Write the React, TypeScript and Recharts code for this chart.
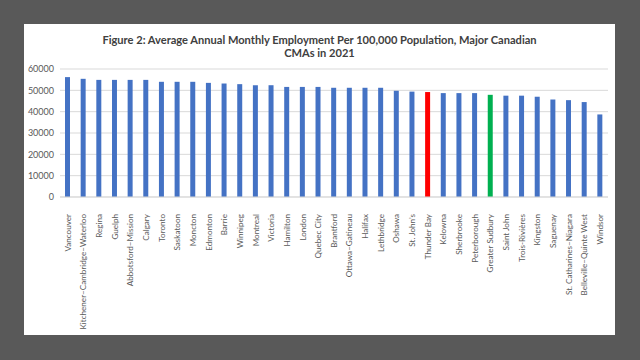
import React from "react";
import { BarChart, Bar, XAxis, YAxis, CartesianGrid, Cell } from "recharts";

const categories = [
  "Vancouver",
  "Kitchener–Cambridge–Waterloo",
  "Regina",
  "Guelph",
  "Abbotsford–Mission",
  "Calgary",
  "Toronto",
  "Saskatoon",
  "Moncton",
  "Edmonton",
  "Barrie",
  "Winnipeg",
  "Montreal",
  "Victoria",
  "Hamilton",
  "London",
  "Quebec City",
  "Brantford",
  "Ottawa–Gatineau",
  "Halifax",
  "Lethbridge",
  "Oshawa",
  "St. John’s",
  "Thunder Bay",
  "Kelowna",
  "Sherbrooke",
  "Peterborough",
  "Greater Sudbury",
  "Saint John",
  "Trois-Rivières",
  "Kingston",
  "Saguenay",
  "St. Catharines–Niagara",
  "Belleville–Quinte West",
  "Windsor",
];

const employment = [
  56200, 55400, 54900, 54900, 54900, 54900, 54000, 54000, 54000, 53500, 53200,
  52900, 52400, 52400, 51600, 51600, 51600, 51200, 51200, 51200, 51200, 49800,
  49400, 49200, 48700, 48700, 48700, 47900, 47500, 47500, 47000, 45700, 45400,
  44500, 38700,
];

const yTicks = [0, 10000, 20000, 30000, 40000, 50000, 60000];

const titleLines = [
  "Figure 2: Average Annual Monthly Employment Per 100,000 Population, Major Canadian",
  "CMAs in 2021",
];

const BASE_COLOR = "#4472C4";
const highlightColors: Record<string, string> = {
  "Thunder Bay": "#FF0000",
  "Greater Sudbury": "#00B050",
};

const data = categories.map((name, i) => ({ name, value: employment[i] }));

const FONT = "Lato, 'Liberation Sans', sans-serif";

const RotatedTick = (props: any) => {
  const { x, y, payload } = props;
  return (
    <text
      x={x}
      y={y + 9}
      transform={`rotate(-90, ${x}, ${y + 9})`}
      textAnchor="end"
      dy="0.35em"
      fill="#595959"
      fontSize={8.1}
      fontFamily={FONT}
    >
      {payload.value}
    </text>
  );
};

export default function App() {
  return (
    <div
      style={{
        position: "absolute",
        left: 0,
        top: 0,
        width: 640,
        height: 360,
        background: "#595959",
        overflow: "hidden",
      }}
    >
      <div
        style={{
          position: "absolute",
          left: 24,
          top: 24,
          width: 591,
          height: 311,
          background: "#ffffff",
        }}
      />
      <div
        style={{
          position: "absolute",
          left: 24,
          top: 33,
          width: 591,
          textAlign: "center",
          fontFamily: FONT,
          fontWeight: 700,
          fontSize: 11.1,
          lineHeight: "13px",
          color: "#404040",
        }}
      >
        {titleLines.map((l, i) => (
          <div key={i}>{l}</div>
        ))}
      </div>
      <div style={{ position: "absolute", left: 0, top: 0 }}>
        <BarChart
          width={640}
          height={360}
          data={data}
          margin={{ top: 69, right: 32, bottom: 0, left: 0 }}
          barCategoryGap="33%"
        >
          <CartesianGrid
            vertical={false}
            stroke="#d9d9d9"
            strokeWidth={1}
          />
          <XAxis
            dataKey="name"
            interval={0}
            height={163}
            tickLine={false}
            axisLine={{ stroke: "#d9d9d9" }}
            tick={<RotatedTick />}
          />
          <YAxis
            width={60}
            domain={[0, 60000]}
            ticks={yTicks}
            interval={0}
            tickLine={false}
            axisLine={false}
            tickSize={0}
            tickMargin={6}
            tick={{ fill: "#595959", fontSize: 9, fontFamily: FONT }}
          />
          <Bar dataKey="value" barSize={5} isAnimationActive={false}>
            {data.map((d, i) => (
              <Cell key={i} fill={highlightColors[d.name] ?? BASE_COLOR} />
            ))}
          </Bar>
        </BarChart>
      </div>
    </div>
  );
}
